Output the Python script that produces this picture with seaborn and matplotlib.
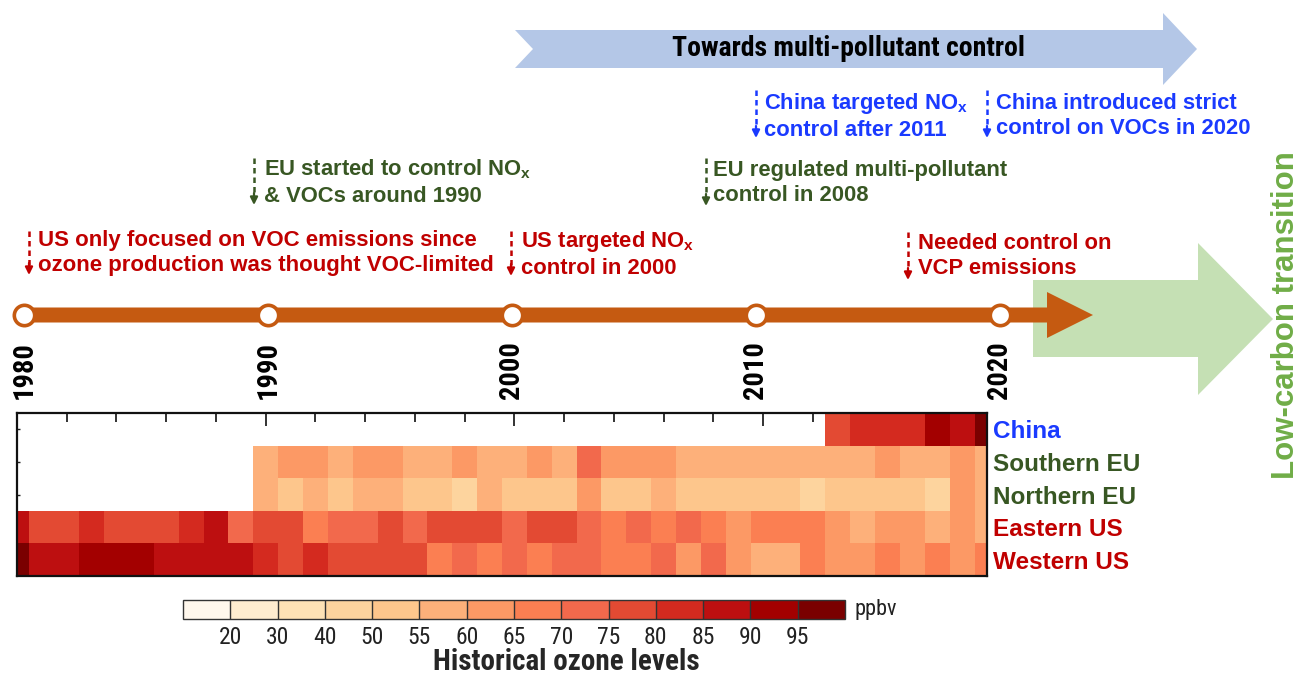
import numpy as np
import pandas as pd
import matplotlib
matplotlib.use("Agg")
import matplotlib.pyplot as plt
import seaborn as sns
from matplotlib import font_manager as fm
from matplotlib.colors import ListedColormap, BoundaryNorm
from matplotlib.patches import Polygon

# ---- data: ozone (ppbv), each value = middle of the colour bin ----
years = list(range(1980, 2020))
regions = ["China", "Southern EU", "Northern EU", "Eastern US", "Western US"]
nan = np.nan
china = [nan] * 33 + [77.5, 82.5, 82.5, 82.5, 92.5, 87.5, 97.5]
southern_eu = [nan] * 10 + [57.5, 62.5, 62.5, 57.5, 62.5, 62.5, 57.5, 57.5, 62.5, 57.5,
                            57.5, 62.5, 57.5, 72.5, 62.5, 62.5, 62.5, 57.5, 57.5, 57.5,
                            57.5, 57.5, 57.5, 57.5, 57.5, 62.5, 57.5, 57.5, 62.5, 57.5]
northern_eu = [nan] * 10 + [57.5, 52.5, 57.5, 52.5, 57.5, 57.5, 52.5, 52.5, 45.0, 57.5,
                            52.5, 52.5, 52.5, 62.5, 52.5, 52.5, 57.5, 52.5, 52.5, 52.5,
                            52.5, 52.5, 45.0, 52.5, 52.5, 52.5, 52.5, 45.0, 62.5, 57.5]
eastern_us = [87.5, 77.5, 77.5, 82.5, 77.5, 77.5, 77.5, 82.5, 87.5, 72.5,
              77.5, 77.5, 67.5, 72.5, 72.5, 77.5, 72.5, 77.5, 77.5, 77.5,
              72.5, 77.5, 77.5, 72.5, 67.5, 72.5, 67.5, 72.5, 67.5, 62.5,
              67.5, 67.5, 67.5, 62.5, 57.5, 62.5, 62.5, 57.5, 62.5, 57.5]
western_us = [97.5, 87.5, 87.5, 92.5, 92.5, 92.5, 87.5, 87.5, 87.5, 87.5,
              82.5, 77.5, 82.5, 77.5, 77.5, 77.5, 77.5, 67.5, 72.5, 67.5,
              72.5, 67.5, 72.5, 72.5, 67.5, 67.5, 72.5, 62.5, 72.5, 62.5,
              57.5, 57.5, 67.5, 62.5, 62.5, 67.5, 62.5, 67.5, 62.5, 67.5]

ozone_bounds = [10, 20, 30, 40, 50, 55, 60, 65, 70, 75, 80, 85, 90, 95, 100]
level_colors = ["#fff7ec", "#feeccf", "#fee2b5", "#fdd49e", "#fdc68c", "#fdb07a", "#fc9965",
                "#fb7f52", "#f2694c", "#e34a33", "#d42a1f", "#bd0f10", "#a30000", "#7a0000"]
decades = [1980, 1990, 2000, 2010, 2020]

RED, GREEN, BLUE = "#c00000", "#385723", "#1a3aff"
region_colors = [BLUE, GREEN, GREEN, RED, RED]

# (text, colour, arrow x, arrow top, arrow bottom, text x, text centre y, font size, line spacing)
notes = [
    ("US only focused on VOC emissions since\nozone production was thought VOC-limited",
     RED, 29, 231, 275, 38, 253, 16, 1.25),
    ("EU started to control NO$_\\mathrm{x}$\n& VOCs around 1990", GREEN, 254, 158, 205, 264, 182, 15.8, 1.3),
    ("US targeted NO$_\\mathrm{x}$\ncontrol in 2000", RED, 511, 231, 276, 521, 254, 15.8, 1.3),
    ("EU regulated multi-pollutant\ncontrol in 2008", GREEN, 706, 158, 206, 713, 183, 15.8, 1.3),
    ("China targeted NO$_\\mathrm{x}$\ncontrol after 2011", BLUE, 756, 90, 138, 764, 116, 15.8, 1.3),
    ("China introduced strict\ncontrol on VOCs in 2020", BLUE, 987, 90, 138, 996, 116, 15.8, 1.3),
    ("Needed control on\nVCP emissions", RED, 908, 232, 280, 918, 256, 15.8, 1.3),
]

sns.set_theme(style="white")
plt.rcParams["font.family"] = ["Liberation Sans", "DejaVu Sans"]
plt.rcParams["mathtext.fontset"] = "custom"
for key in ("rm", "it", "bf"):
    plt.rcParams["mathtext." + key] = "Liberation Sans:bold"

# pick a condensed sans face if one is installed, otherwise shrink the normal one
faces = fm.fontManager.ttflist
names = {f.name for f in faces}
narrow_name, narrow_stretch, nscale = "Liberation Sans", "normal", 0.87
for cand in ["Liberation Sans Narrow", "Arial Narrow", "Roboto Condensed",
             "Open Sans Condensed", "Noto Sans Condensed"]:
    if cand in names:
        narrow_name, narrow_stretch, nscale = cand, "condensed", 1.0
        break
else:
    for f in faces:
        if f.stretch == "condensed" and f.name in ("Roboto", "Noto Sans", "Open Sans", "Lato", "Inter"):
            narrow_name, narrow_stretch, nscale = f.name, "condensed", 1.0
            break
NARROW = dict(family=[narrow_name, "Liberation Sans", "DejaVu Sans"], fontstretch=narrow_stretch)

W, H = 1301, 677
fig = plt.figure(figsize=(W / 100, H / 100), dpi=100)


def box(l, t, r, b):
    return [l / W, 1 - b / H, (r - l) / W, (b - t) / H]


# background layer in pixel units (big arrows, notes)
ax_bg = fig.add_axes([0, 0, 1, 1])
ax_bg.set_xlim(0, W)
ax_bg.set_ylim(H, 0)
ax_bg.axis("off")

ax_bg.add_patch(Polygon([(515, 30), (1163, 30), (1163, 13), (1197, 49), (1163, 85),
                         (1163, 68), (515, 68), (533, 49)], closed=True,
                        facecolor="#b4c7e7", edgecolor="none", zorder=1))
ax_bg.text(848, 48, "Towards multi-pollutant control", ha="center", va="center",
           fontsize=20 * nscale, fontweight="bold", color="black", zorder=3, **NARROW)

ax_bg.add_patch(Polygon([(1033, 280), (1198, 280), (1198, 243), (1273, 319), (1198, 395),
                         (1198, 357), (1033, 357)], closed=True,
                        facecolor="#c5e0b4", edgecolor="none", zorder=1))
ax_bg.text(1286, 315, "Low-carbon transition", rotation=90, ha="center", va="center",
           fontsize=22.5, fontweight="bold", color="#70ad47", zorder=3)

ax_bg.add_patch(Polygon([(24, 307.5), (1047, 307.5), (1047, 292), (1093, 315), (1047, 338),
                         (1047, 322.5), (24, 322.5)], closed=True,
                        facecolor="#c55a11", edgecolor="none", zorder=2))

for text, col, ax_x, y0, y1, tx, ty, fs, ls in notes:
    ax_bg.plot([ax_x, ax_x], [y0, y1 - 9], color=col, lw=1.8, ls=(0, (2.2, 1.6)), zorder=3)
    ax_bg.annotate("", xy=(ax_x, y1), xytext=(ax_x, y1 - 12),
                   arrowprops=dict(arrowstyle="-|>", color=col, lw=1.6, mutation_scale=11,
                                   shrinkA=0, shrinkB=0), zorder=3)
    ax_bg.text(tx, ty, text, color=col, ha="left", va="center", fontweight="bold",
               fontsize=fs, linespacing=ls, zorder=3)

# heatmap + colour bar
ax_hm = fig.add_axes(box(17, 413, 987, 576))
cax = fig.add_axes(box(183, 600, 845, 619))

df = pd.DataFrame([china, southern_eu, northern_eu, eastern_us, western_us],
                  index=regions, columns=years)
cmap = ListedColormap(level_colors)
norm = BoundaryNorm(ozone_bounds, cmap.N)
sns.heatmap(df, ax=ax_hm, cmap=cmap, norm=norm, cbar_ax=cax,
            cbar_kws=dict(orientation="horizontal", ticks=ozone_bounds[1:-1], drawedges=True),
            xticklabels=False, yticklabels=regions)

ax_hm.set_xlim(0.5, len(years) - 0.5)
major = [years.index(y) + 0.5 for y in years if y % 10 == 0 and y > years[0]]
minor = [years.index(y) + 0.5 for y in years if y % 2 == 0 and y % 10 != 0]
ax_hm.set_xticks(major)
ax_hm.set_xticks(minor, minor=True)
ax_hm.tick_params(axis="x", which="both", direction="in", top=True, bottom=True,
                  labelbottom=False, labeltop=False, color="#222222", width=1.3)
ax_hm.tick_params(axis="x", which="major", length=9.5)
ax_hm.tick_params(axis="x", which="minor", length=6.5)
ax_hm.tick_params(axis="y", left=True, right=False, labelleft=False, labelright=True,
                  direction="in", length=2.5, width=1, color="#222222", pad=4)
for lbl, col in zip(ax_hm.get_yticklabels(), region_colors):
    lbl.set_color(col)
    lbl.set_rotation(0)
    lbl.set_fontsize(17.5)
    lbl.set_fontweight("bold")
ax_hm.set_xlabel("")
ax_hm.set_ylabel("")
for sp in ax_hm.spines.values():
    sp.set_visible(True)
    sp.set_linewidth(1.6)
    sp.set_color("#111111")

cb = ax_hm.collections[0].colorbar
cb.outline.set_visible(True)
cb.outline.set_linewidth(1.0)
cb.outline.set_edgecolor("#333333")
cb.dividers.set_color("#333333")
cb.dividers.set_linewidth(1.0)
cb.minorticks_off()
cax.tick_params(which="both", length=0, labelsize=17 * nscale, pad=5)
for lbl in cax.get_xticklabels():
    lbl.set_family(NARROW["family"])
    lbl.set_fontstretch(narrow_stretch)
    lbl.set_color("#222222")
cax.set_xlabel("Historical ozone levels", fontsize=21 * nscale, fontweight="bold",
               va="center", **NARROW)
cax.xaxis.set_label_coords((566 - 183) / (845 - 183), -(662 - 619) / (619 - 600))
ax_bg.text(855, 610, "ppbv", ha="left", va="center", fontsize=16 * nscale,
           color="#222222", **NARROW)

# timeline layer in year units
px_per_year = 24.4
ax_tl = fig.add_axes([0, 0, 1, 1])
ax_tl.set_xlim(1980 - 24 / px_per_year, 1980 + (W - 24) / px_per_year)
ax_tl.set_ylim(H, 0)
ax_tl.patch.set_alpha(0)
ax_tl.axis("off")
ax_tl.scatter(decades, [315] * len(decades), s=215, facecolor="white",
              edgecolor="#c55a11", linewidth=2.6, zorder=4)
for y in decades:
    ax_tl.text(y, 341, str(y), rotation=90, ha="center", va="top", fontsize=20.5 * nscale,
               fontweight="bold", color="black", **NARROW)

fig.savefig("out.png", dpi=100)
